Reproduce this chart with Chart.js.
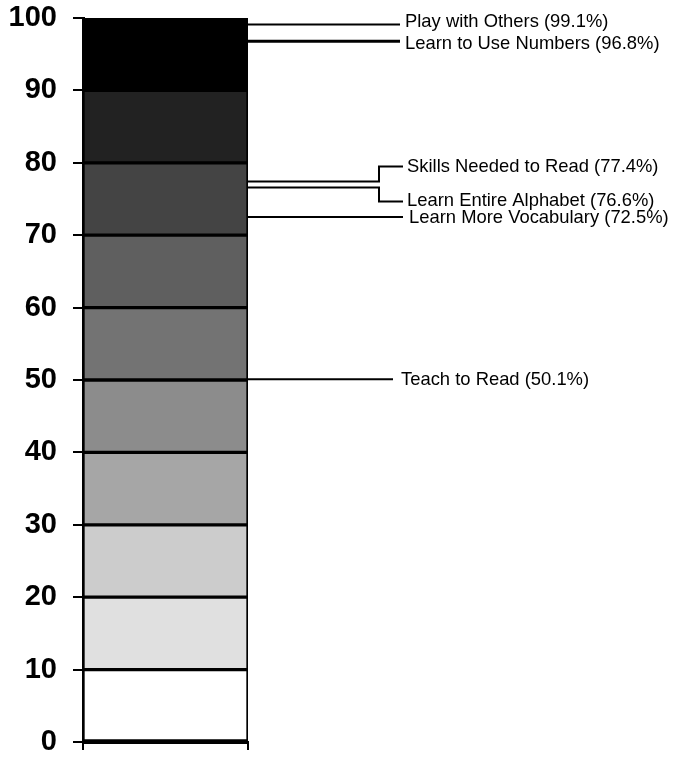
<!DOCTYPE html>
<html>
<head>
<meta charset="utf-8">
<script src="https://cdn.jsdelivr.net/npm/chart.js@4.4.1/dist/chart.umd.min.js"></script>
<style>
  html, body { margin: 0; padding: 0; background: #ffffff; }
  #wrap { width: 673px; height: 758px; position: relative; }
</style>
</head>
<body>
<div id="wrap"><canvas id="c" width="673" height="758"></canvas></div>
<script>
// ---- data ----
const categories = [''];
const segmentValues = [10, 10, 10, 10, 10, 10, 10, 10, 10, 10];
const segmentColors = ['#ffffff', '#e0e0e0', '#cccccc', '#a6a6a6', '#8c8c8c',
                       '#737373', '#5f5f5f', '#444444', '#222222', '#000000'];
const yTicks = [0, 10, 20, 30, 40, 50, 60, 70, 80, 90, 100];
const annotationLabels = ['Play with Others (99.1%)', 'Learn to Use Numbers (96.8%)',
  'Skills Needed to Read (77.4%)', 'Learn Entire Alphabet (76.6%)',
  'Learn More Vocabulary (72.5%)', 'Teach to Read (50.1%)'];
const annotationValues = [99.1, 96.8, 77.4, 76.6, 72.5, 50.1];

// ---- label layout (pixels, presentation only) ----
const labelLayout = [
  { lineEnd: 400, textX: 405, dy: -5, elbow: null, lw: 2 },
  { lineEnd: 400, textX: 405, dy: 1, elbow: null, lw: 3 },
  { lineEnd: 403, textX: 407, dy: -15, elbow: 379, lw: 2 },
  { lineEnd: 403, textX: 407, dy: 14, elbow: 379, lw: 2 },
  { lineEnd: 403, textX: 409, dy: -1, elbow: null, lw: 2 },
  { lineEnd: 393, textX: 401, dy: -1, elbow: null, lw: 2 }
];
const textShift = 2;

const datasets = segmentValues.map((v, i) => ({
  data: [v],
  backgroundColor: segmentColors[i],
  borderColor: '#000000',
  borderWidth: 2,
  borderSkipped: false,
  barPercentage: 1.0,
  categoryPercentage: 1.0
}));

const annotationPlugin = {
  id: 'leaders',
  afterDraw(chart) {
    const ctx = chart.ctx;
    const y = chart.scales.y;
    const x0 = chart.chartArea.right;
    ctx.save();
    ctx.strokeStyle = '#000';
    ctx.fillStyle = '#000';
    ctx.font = '18.4px "Liberation Sans", Arial, sans-serif';
    ctx.textBaseline = 'middle';
    ctx.textAlign = 'left';
    annotationValues.forEach((v, i) => {
      const L = labelLayout[i];
      const py = y.getPixelForValue(v);
      const ly = py + (L.elbow ? L.dy : 0);
      const ty = py + L.dy;
      ctx.lineWidth = L.lw;
      ctx.beginPath();
      if (L.elbow) {
        ctx.moveTo(x0, py);
        ctx.lineTo(L.elbow, py);
        ctx.lineTo(L.elbow, ly);
        ctx.lineTo(L.lineEnd, ly);
      } else {
        ctx.moveTo(x0, py);
        ctx.lineTo(L.lineEnd, py);
      }
      ctx.stroke();
      ctx.fillText(annotationLabels[i], L.textX, ty + (L.elbow ? 0 : textShift));
    });
    ctx.restore();
  }
};

new Chart(document.getElementById('c'), {
  type: 'bar',
  data: { labels: categories, datasets: datasets },
  options: {
    responsive: false,
    animation: false,
    devicePixelRatio: 1,
    layout: { padding: { top: 18, right: 425, left: 0, bottom: 0 } },
    plugins: { legend: { display: false }, tooltip: { enabled: false } },
    scales: {
      x: {
        stacked: true,
        offset: true,
        grid: { display: true, drawOnChartArea: false, drawTicks: true, tickLength: 8,
                offset: true, color: '#000', lineWidth: 2 },
        border: { display: true, color: '#000', width: 3 },
        ticks: { display: false },
        afterFit(s) { s.height = 16; s.paddingLeft = 0; s.paddingRight = 0; }
      },
      y: {
        stacked: true,
        min: 0,
        max: 100,
        afterBuildTicks(s) { s.ticks = yTicks.map(v => ({ value: v })); },
        grid: { display: true, drawOnChartArea: false, drawTicks: true, tickLength: 10,
                color: '#000', lineWidth: 2 },
        border: { display: true, color: '#000', width: 3 },
        ticks: {
          padding: 16,
          color: '#000',
          font: { family: '"Liberation Sans", Arial, sans-serif', size: 29, weight: 'bold' }
        },
        afterFit(s) { s.width = 83; s.paddingTop = 0; s.paddingBottom = 0; }
      }
    }
  },
  plugins: [annotationPlugin]
});
</script>
</body>
</html>
